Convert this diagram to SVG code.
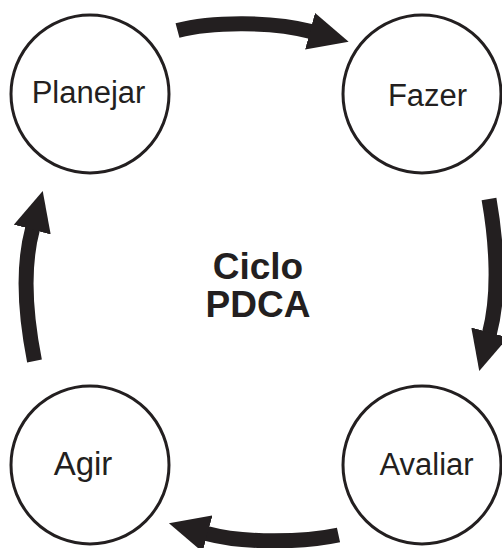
<svg xmlns="http://www.w3.org/2000/svg" width="502" height="548" viewBox="0 0 502 548">
  <style>
    .node circle { fill: #ffffff; stroke: #231f20; stroke-width: 3; }
    .label { font-family: "Liberation Sans", Arial, sans-serif; font-size: 31px; fill: #231f20; text-anchor: middle; }
    .title { font-family: "Liberation Sans", Arial, sans-serif; font-size: 37px; font-weight: bold; fill: #231f20; text-anchor: middle; }
    .arc { fill: none; stroke: #231f20; stroke-width: 15; stroke-linecap: butt; marker-end: url(#head); }
  </style>
  <defs>
    <marker id="head" markerUnits="userSpaceOnUse" viewBox="0 0 40 38" markerWidth="40" markerHeight="38" refX="1" refY="19" orient="auto">
      <path d="M0,0 L40,19 L0,38 Z" fill="#231f20"/>
    </marker>
  </defs>

  <rect width="502" height="548" fill="#ffffff"/>

  <g id="connectors">
    <!-- Planejar -> Fazer -->
    <path class="arc" d="M177.5,30.5 C211.3,21.4 272.4,21.1 311,31.5"/>
    <!-- Fazer -> Avaliar -->
    <path class="arc" d="M489,199 C496.8,243.3 499.8,294.8 489.4,333.4"/>
    <!-- Avaliar -> Agir -->
    <path class="arc" d="M338.5,535 C304.3,542.3 245.2,543.8 206.6,533.4"/>
    <!-- Agir -> Planejar -->
    <path class="arc" d="M34.5,361 C26,318 22,268 32.6,228.6"/>
  </g>

  <g id="planejar" class="node">
    <circle cx="90" cy="94" r="79"/>
    <text class="label" x="88.5" y="103">Planejar</text>
  </g>
  <g id="fazer" class="node">
    <circle cx="422" cy="94" r="79"/>
    <text class="label" x="427.5" y="106">Fazer</text>
  </g>
  <g id="avaliar" class="node">
    <circle cx="422" cy="465" r="79"/>
    <text class="label" x="426.5" y="475">Avaliar</text>
  </g>
  <g id="agir" class="node">
    <circle cx="90" cy="465" r="79"/>
    <text class="label" x="83" y="475" style="font-size:33px">Agir</text>
  </g>

  <g id="title">
    <text class="title" x="258" y="279">Ciclo</text>
    <text class="title" x="258" y="317">PDCA</text>
  </g>
</svg>
